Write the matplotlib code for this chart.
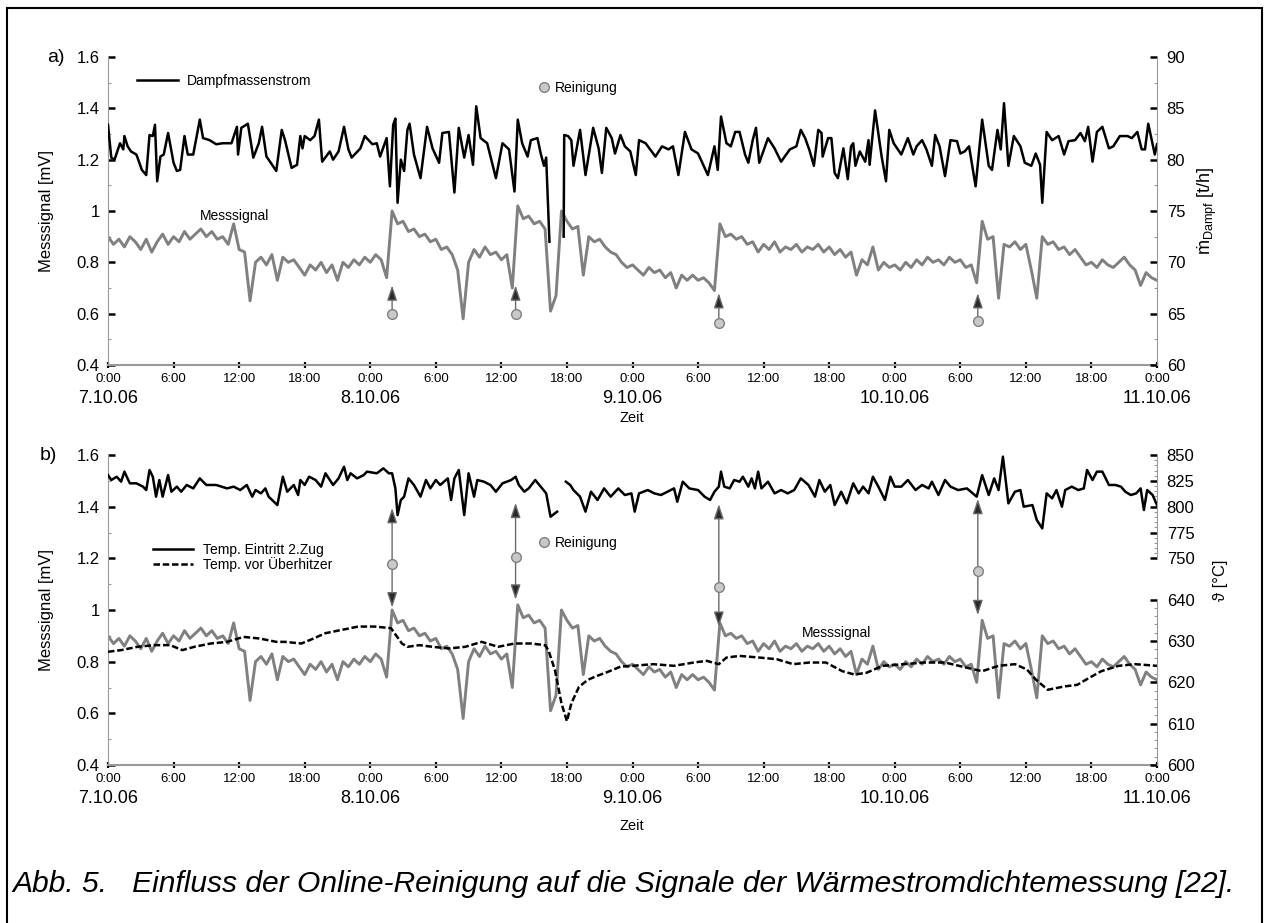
import numpy as np
import matplotlib.pyplot as plt
from matplotlib.ticker import MultipleLocator

plt.rcParams['font.family'] = ['Liberation Sans', 'DejaVu Sans']
plt.rcParams['mathtext.fontset'] = 'custom'
plt.rcParams['mathtext.rm'] = 'Liberation Sans'
plt.rcParams['mathtext.it'] = 'Liberation Sans:italic'

# ---- data (hours since 7.10.06 0:00) ----
hour_ticks = list(range(0, 97, 6))
hour_labels = ['0:00', '6:00', '12:00', '18:00'] * 4 + ['0:00']
date_ticks = [0, 24, 48, 72, 96]
date_labels = ['7.10.06', '8.10.06', '9.10.06', '10.10.06', '11.10.06']

# Messsignal [mV], one value every half hour from 0 h to 96 h
messsignal = [
    0.90, 0.87, 0.89, 0.86, 0.90, 0.88, 0.85, 0.89, 0.84, 0.88, 0.91, 0.87,
    0.90, 0.88, 0.92, 0.89, 0.91, 0.93, 0.90, 0.92, 0.89, 0.90, 0.87, 0.95,
    0.85, 0.84, 0.65, 0.80, 0.82, 0.79, 0.83, 0.73, 0.82, 0.80, 0.81, 0.78,
    0.75, 0.79, 0.77, 0.80, 0.76, 0.79, 0.73, 0.80, 0.78, 0.81, 0.79, 0.82,
    0.80, 0.83, 0.81, 0.74, 1.00, 0.95, 0.96, 0.92, 0.93, 0.90, 0.91, 0.88,
    0.89, 0.85, 0.86, 0.83, 0.77, 0.58, 0.80, 0.85, 0.82, 0.86, 0.83, 0.84,
    0.81, 0.83, 0.70, 1.02, 0.97, 0.98, 0.95, 0.96, 0.93, 0.61, 0.67, 1.00,
    0.96, 0.93, 0.94, 0.75, 0.90, 0.88, 0.89, 0.86, 0.84, 0.83, 0.80, 0.78,
    0.79, 0.77, 0.75, 0.78, 0.76, 0.77, 0.74, 0.76, 0.70, 0.75, 0.73, 0.75,
    0.73, 0.74, 0.72, 0.69, 0.95, 0.90, 0.91, 0.89, 0.90, 0.87, 0.88, 0.84,
    0.87, 0.85, 0.88, 0.84, 0.86, 0.85, 0.87, 0.84, 0.86, 0.85, 0.87, 0.84,
    0.86, 0.83, 0.85, 0.82, 0.84, 0.75, 0.81, 0.79, 0.86, 0.77, 0.80, 0.78,
    0.79, 0.77, 0.80, 0.78, 0.81, 0.79, 0.82, 0.80, 0.81, 0.79, 0.82, 0.80,
    0.81, 0.78, 0.79, 0.72, 0.96, 0.89, 0.90, 0.66, 0.87, 0.86, 0.88, 0.85,
    0.87, 0.77, 0.66, 0.90, 0.87, 0.88, 0.85, 0.86, 0.83, 0.85, 0.82, 0.79,
    0.80, 0.78, 0.81, 0.79, 0.78, 0.80, 0.82, 0.79, 0.77, 0.71, 0.76, 0.74,
    0.73]
mess_h = np.linspace(0, 96, len(messsignal))

# Dampfmassenstrom [t/h]
dampf_h = [0.0, 0.3, 0.6, 1.1, 1.4, 1.5, 1.8, 2.1, 2.6, 3.1, 3.5, 3.8, 4.1, 4.3, 4.5, 4.8,
           5.1, 5.5, 6.0, 6.3, 6.6, 7.0, 7.3, 7.8, 8.4, 8.7, 9.3, 9.9, 10.5, 11.3, 11.8,
           11.9, 12.2, 12.8, 13.3, 13.8, 14.1, 14.5, 14.7, 15.4, 15.9, 16.2, 16.8, 17.3,
           17.6, 17.8, 18.0, 18.5, 18.9, 19.3, 19.6, 20.3, 20.6, 21.1, 21.6, 22.0, 22.3,
           23.1, 23.5, 24.2, 24.6, 24.9, 25.5, 25.8, 26.1, 26.3, 26.5, 26.8, 27.1, 27.4,
           27.6, 28.0, 28.6, 29.2, 29.7, 30.3, 30.6, 31.2, 31.7, 32.1, 32.6, 33.0, 33.4,
           33.7, 34.1, 34.7, 35.5, 36.1, 36.7, 37.2, 37.5, 37.9, 38.4, 38.7, 39.3, 39.6,
           39.9, 40.1, 40.4, 41.0, 41.7, 41.75, 42.1, 42.4, 42.6, 43.2, 43.7, 44.4, 44.9,
           45.2, 45.6, 46.1, 46.4, 46.9, 47.3, 47.8, 48.3, 48.6, 49.2, 50.1, 50.7, 51.3,
           51.7, 52.2, 52.8, 53.4, 54.0, 54.9, 55.5, 55.8, 56.1, 56.6, 57.0, 57.4, 57.8,
           58.3, 58.6, 59.0, 59.3, 59.6, 60.4, 61.0, 61.6, 62.4, 63.0, 63.4, 63.8, 64.2,
           64.6, 65.0, 65.3, 65.4, 65.9, 66.2, 66.5, 66.8, 67.3, 67.7, 68.0, 68.2, 68.4,
           68.8, 69.3, 69.6, 69.7, 70.2, 70.8, 71.2, 71.5, 71.9, 72.6, 73.2, 73.7, 74.0,
           74.5, 74.9, 75.4, 75.7, 76.1, 76.6, 77.1, 77.7, 78.0, 78.4, 78.8, 79.4, 80.0,
           80.6, 80.9, 81.4, 81.7, 82.0, 82.4, 82.9, 83.5, 83.9, 84.5, 84.9, 85.3, 85.5,
           85.9, 86.4, 87.0, 87.5, 87.9, 88.5, 89.0, 89.4, 89.7, 90.1, 90.5, 91.0, 91.6,
           92.0, 92.6, 93.3, 93.7, 94.2, 94.6, 94.9, 95.2, 95.8, 96.0]
dampf_t = [83.4, 80.2, 80.0, 81.6, 81.0, 82.3, 81.3, 80.8, 80.5, 79.0, 78.5, 82.4, 82.3, 83.4, 77.9, 80.3,
           80.5, 82.6, 79.7, 78.9, 79.0, 82.3, 80.5, 80.5, 83.9, 82.1, 81.9, 81.5, 81.6, 81.6, 83.2,
           80.5, 83.1, 83.5, 80.2, 81.6, 83.2, 80.3, 80.0, 78.9, 82.9, 81.9, 79.2, 79.5,
           82.3, 81.1, 82.3, 81.9, 82.3, 83.9, 79.8, 80.8, 80.0, 80.8, 83.2, 81.0, 80.2,
           81.1, 82.3, 81.5, 81.6, 80.3, 82.1, 77.4, 83.4, 84.0, 75.8, 80.0, 78.9, 82.9,
           83.5, 80.5, 78.2, 83.2, 81.1, 79.7, 82.6, 82.7, 76.8, 83.1, 80.2, 82.4, 79.5,
           85.2, 82.1, 81.6, 78.2, 81.6, 81.0, 76.9, 83.9, 81.6, 80.3, 81.9, 82.1, 80.6,
           79.4, 80.2, 72.0, np.nan, 72.5, 82.4, 82.3, 81.9, 79.4, 82.9, 78.5, 83.1, 81.1,
           78.7, 83.1, 82.1, 80.6, 82.4, 81.3, 80.8, 78.5, 81.9, 81.6, 80.3, 81.3, 81.0,
           81.3, 78.5, 82.7, 81.0, 80.6, 78.5, 81.3, 79.0, 84.2, 81.6, 81.3, 82.7, 82.7,
           80.5, 79.7, 81.9, 83.1, 79.7, 82.1, 81.1, 79.8, 81.0, 81.3, 82.9, 82.1, 80.9,
           79.4, 82.9, 82.6, 80.3, 82.1, 82.1, 78.7, 78.2, 81.1, 78.1, 81.3, 81.6, 79.4,
           80.8, 79.8, 81.9, 79.5, 84.8, 80.3, 77.9, 82.9, 81.6, 80.5, 82.1, 80.5, 81.3,
           81.9, 81.0, 79.4, 82.4, 81.3, 78.4, 81.9, 81.8, 80.6, 80.8, 81.3, 77.4, 83.9,
           79.4, 79.0, 82.9, 81.0, 85.5, 79.4, 82.3, 81.3, 79.7, 79.4, 80.6, 79.5, 75.8,
           82.7, 81.9, 82.3, 80.5, 81.8, 81.9, 82.6, 81.8, 83.2, 79.8, 82.7, 83.2, 81.1,
           81.3, 82.3, 82.3, 82.1, 82.7, 81.0, 81.0, 83.5, 80.5, 81.5]

# Temp. Eintritt 2.Zug [degC]
eintritt_h = [0.0, 0.3, 0.8, 1.2, 1.5, 2.0, 2.6, 3.2, 3.5, 3.8, 4.1, 4.4, 4.7, 5.0, 5.5, 5.8,
              6.3, 6.7, 7.2, 7.8, 8.4, 9.0, 9.9, 10.9, 11.5, 12.1, 12.7, 13.2, 13.5, 14.0,
              14.4, 14.7, 15.5, 16.0, 16.4, 17.0, 17.4, 17.6, 18.0, 18.4, 19.0, 19.5, 19.9,
              20.3, 20.6, 21.1, 21.6, 21.9, 22.2, 22.8, 23.4, 23.7, 24.6, 25.2, 25.7, 26.0,
              26.3, 26.5, 26.8, 27.1, 27.5, 28.0, 28.6, 29.1, 29.5, 30.0, 30.4, 31.1, 31.4,
              31.7, 32.1, 32.6, 33.0, 33.5, 33.8, 34.4, 35.0, 35.5, 36.1, 36.9, 37.3, 37.6,
              38.1, 38.5, 39.1, 39.6, 40.1, 40.5, 41.1, 41.5, 41.9, 42.3, 42.6, 43.2, 43.7,
              44.2, 44.8, 45.4, 46.0, 46.7, 47.3, 47.9, 48.2, 48.6, 49.4, 50.0, 50.6, 51.2,
              51.8, 52.1, 52.6, 53.2, 54.0, 54.6, 55.1, 55.5, 55.9, 56.1, 56.4, 56.9, 57.3,
              57.8, 58.1, 58.6, 58.9, 59.2, 59.5, 59.8, 60.4, 61.0, 61.6, 62.2, 62.8, 63.4,
              64.1, 64.7, 65.1, 65.6, 66.1, 66.5, 67.1, 67.6, 68.2, 68.7, 69.1, 69.6, 70.0,
              70.5, 71.1, 71.6, 72.0, 72.6, 73.2, 73.9, 74.5, 75.1, 75.4, 76.0, 76.6, 77.1,
              77.8, 78.6, 79.5, 80.0, 80.6, 81.1, 81.5, 81.9, 82.4, 83.0, 83.5, 83.8, 84.6,
              85.0, 85.5, 85.9, 86.4, 86.8, 87.3, 87.6, 88.2, 88.8, 89.3, 89.6, 90.1, 90.5,
              91.0, 91.6, 92.2, 92.7, 93.1, 93.6, 94.1, 94.5, 94.8, 95.1, 95.6, 96.0]
eintritt_T = [830.6, 825.8, 829.0, 824.2, 833.9, 822.6, 822.6, 819.4, 816.1, 835.5, 829.0, 809.7, 825.8, 809.7, 830.6, 814.5,
              819.4, 814.5, 821.0, 817.7, 827.4, 821.0, 821.0, 817.7, 819.4, 816.1, 821.0, 809.7, 816.1, 812.9,
              817.7, 809.7, 801.6, 829.0, 814.5, 821.0, 811.3, 825.8, 821.0, 829.0, 825.8, 819.4, 832.3,
              825.8, 821.0, 827.4, 838.7, 825.8, 832.3, 827.4, 830.6, 833.9, 832.3, 837.1, 832.3, 832.3,
              817.7, 791.9, 806.5, 809.7, 827.4, 821.0, 809.7, 825.8, 817.7, 825.8, 821.0, 827.4, 806.5,
              827.4, 835.5, 791.9, 832.3, 809.7, 825.8, 824.2, 821.0, 814.5, 822.6, 825.8, 829.0, 821.0,
              814.5, 817.7, 825.8, 819.4, 812.9, 790.3, 795.2, np.nan, 824.2, 821.0, 816.1, 809.7, 795.2,
              814.5, 806.5, 817.7, 809.7, 817.7, 811.3, 812.9, 795.2, 812.9, 816.1, 812.9, 811.3, 814.5,
              817.7, 804.8, 824.2, 817.7, 816.1, 809.7, 806.5, 814.5, 819.4, 833.9, 819.4, 817.7, 825.8,
              824.2, 829.0, 819.4, 827.4, 817.7, 833.9, 817.7, 824.2, 812.9, 816.1, 812.9, 816.1, 827.4,
              821.0, 809.7, 825.8, 814.5, 821.0, 801.6, 814.5, 803.2, 822.6, 812.9, 819.4, 812.9, 829.0,
              819.4, 806.5, 829.0, 819.4, 819.4, 825.8, 816.1, 821.0, 817.7, 824.2, 811.3, 825.8, 819.4,
              816.1, 817.7, 809.7, 830.6, 811.3, 827.4, 816.1, 848.4, 803.2, 814.5, 816.1, 800.0, 801.6,
              787.1, 779.0, 812.9, 808.1, 816.1, 800.0, 816.1, 819.4, 816.1, 817.7, 835.5, 825.8, 833.9,
              833.9, 821.0, 821.0, 819.4, 814.5, 811.3, 812.9, 817.7, 796.8, 816.1, 811.3, 801.6]

# Temp. vor Ueberhitzer [degC]
ueber_h = [0.0, 1.2, 2.7, 4.2, 5.7, 6.8, 7.9, 9.4, 10.9, 12.4, 13.9, 15.4, 16.2, 17.7, 18.8,
           19.9, 21.4, 22.9, 24.4, 25.9, 26.9, 27.4, 28.5, 29.7, 31.2, 32.7, 34.2, 35.7, 37.2,
           38.7, 40.0, 40.3, 40.9, 41.5, 42.0, 42.4, 43.1, 43.9, 44.6, 45.8, 46.9, 48.0, 49.9,
           51.8, 53.6, 54.8, 55.9, 56.6, 57.8, 59.6, 61.2, 62.7, 64.2, 65.7, 67.2, 68.3, 69.4,
           70.9, 72.8, 74.7, 76.6, 78.5, 80.0, 81.5, 83.0, 84.1, 84.9, 86.0, 87.5, 88.7, 89.8,
           90.9, 92.5, 94.0, 96.0]
ueber_T = [627.4, 627.8, 628.6, 629.0, 629.0, 627.8, 628.6, 629.4, 629.8, 631.0, 630.6, 629.8, 629.8, 629.4, 630.6,
           631.9, 632.7, 633.5, 633.5, 633.1, 629.4, 628.6, 629.0, 628.6, 628.2, 628.6, 629.8, 628.6, 629.4,
           629.4, 629.0, 627.8, 623.0, 614.9, 610.6, 614.9, 618.9, 620.6, 621.4, 622.6, 623.8, 624.0, 624.4,
           624.0, 624.8, 625.2, 624.4, 626.0, 626.4, 626.0, 625.6, 624.4, 624.8, 624.8, 622.7, 621.9, 622.3,
           624.0, 624.4, 624.8, 624.8, 623.6, 622.7, 624.0, 624.4, 623.1, 620.7, 618.2, 619.0, 619.4, 621.1,
           622.7, 624.0, 624.4, 624.0]

# Reinigung (cleaning) events
clean_h = [26.0, 37.3, 55.9, 79.6]
clean_a_dot = [0.60, 0.60, 0.565, 0.57]
clean_a_tip = [0.71, 0.71, 0.68, 0.68]
clean_b_dot = [1.18, 1.205, 1.09, 1.15]
clean_b_top = [1.395, 1.415, 1.41, 1.43]
clean_b_bot = [1.01, 1.04, 0.935, 0.98]

GRAY = '#808080'
SPINE = '#9a9a9a'
W, H = 1265, 923


def box(x0, y0, x1, y1):
    return [x0 / W, 1 - y1 / H, (x1 - x0) / W, (y1 - y0) / H]


def style_left(ax):
    ax.set_ylim(0.4, 1.6)
    ax.yaxis.set_major_locator(MultipleLocator(0.2))
    ax.yaxis.set_minor_locator(MultipleLocator(0.1))
    ax.yaxis.set_major_formatter(lambda v, p: f'{v:g}')
    ax.tick_params(axis='y', which='major', direction='in', length=5, width=1.8,
                   color='black', labelsize=12, pad=6)
    ax.tick_params(axis='y', which='minor', direction='in', length=2.5, width=0.8, color=SPINE)
    for s in ['top', 'right']:
        ax.spines[s].set_visible(False)
    ax.spines['left'].set_color(SPINE)
    ax.spines['bottom'].set_color(SPINE)
    ax.spines['bottom'].set_linewidth(1.5)
    ax.set_xlim(0, 96)
    ax.set_xticks(hour_ticks, hour_labels)
    ax.tick_params(axis='x', direction='inout', length=5, width=1.6, color='black',
                   labelsize=9.5, pad=3.5)
    sec = ax.secondary_xaxis('bottom')
    sec.set_xticks(date_ticks, date_labels)
    sec.tick_params(length=0, labelsize=13, pad=18)
    sec.spines['bottom'].set_visible(False)


def style_right(ax, lo, hi, major, minor):
    ax.set_ylim(lo, hi)
    ax.yaxis.set_major_locator(MultipleLocator(major))
    ax.yaxis.set_minor_locator(MultipleLocator(minor))
    ax.yaxis.tick_right()
    ax.tick_params(axis='y', which='major', direction='in', length=5, width=1.8,
                   color='black', labelsize=12, pad=7)
    ax.tick_params(axis='y', which='minor', direction='in', length=2.5, width=0.8, color=SPINE)
    for s in ['top', 'left', 'bottom']:
        ax.spines[s].set_visible(False)
    ax.spines['right'].set_color(SPINE)
    ax.patch.set_visible(False)


fig = plt.figure(figsize=(W / 100, H / 100), dpi=100)

# ---------------- panel a ----------------
ax_a = fig.add_axes(box(108, 57, 1157, 365))
style_left(ax_a)
ax_a.plot(mess_h, messsignal, color=GRAY, lw=2.1)
for h, d, t in zip(clean_h, clean_a_dot, clean_a_tip):
    ax_a.annotate('', xy=(h, t), xytext=(h, d),
                  arrowprops=dict(arrowstyle='-|>,head_length=0.9,head_width=0.3',
                                  fc='#2a2a2a', ec='#6a6a6a', lw=1.0, shrinkA=0, shrinkB=0))
dots_a, = ax_a.plot(clean_h, clean_a_dot, 'o', ms=7, mfc='#c8c8c8', mec=GRAY, mew=1,
                    zorder=5, label='Reinigung')
ax_a.text(11.6, 0.98, 'Messsignal', ha='center', va='center', fontsize=10)

axr = ax_a.twinx()
style_right(axr, 60, 90, 5, 2.5)
dampf_line, = axr.plot(dampf_h, dampf_t, color='black', lw=1.8, label='Dampfmassenstrom')

leg1 = axr.legend(handles=[dampf_line], loc='upper left', bbox_to_anchor=(0.028, 0.945),
                  frameon=False, fontsize=10, borderpad=0, borderaxespad=0,
                  handlelength=2.9, handletextpad=0.7)
axr.add_artist(leg1)
axr.legend(handles=[dots_a], loc='upper left', bbox_to_anchor=(0.410, 0.922),
           frameon=False, fontsize=10, borderpad=0, borderaxespad=0,
           handlelength=0.8, handletextpad=0.4, numpoints=1)

# ---------------- panel b ----------------
ax_b = fig.add_axes(box(108, 455, 1157, 765))
style_left(ax_b)
ax_b.plot(mess_h, messsignal, color=GRAY, lw=2.1)
for h, d, t, b in zip(clean_h, clean_b_dot, clean_b_top, clean_b_bot):
    for tip in (t, b):
        ax_b.annotate('', xy=(h, tip), xytext=(h, d),
                      arrowprops=dict(arrowstyle='-|>,head_length=0.9,head_width=0.3',
                                      fc='#2a2a2a', ec='#6a6a6a', lw=1.0, shrinkA=0, shrinkB=0))
dots_b, = ax_b.plot(clean_h, clean_b_dot, 'o', ms=7, mfc='#c8c8c8', mec=GRAY, mew=1,
                    zorder=5, label='Reinigung')
ax_b.text(66.7, 0.91, 'Messsignal', ha='center', va='center', fontsize=10)

ax_hi = fig.add_axes(box(108, 455, 1157, 558.4), sharex=ax_b)
ax_hi.xaxis.set_visible(False)
style_right(ax_hi, 750, 850, 25, 5)
ax_lo = fig.add_axes(box(108, 599.7, 1157, 765), sharex=ax_b)
ax_lo.xaxis.set_visible(False)
style_right(ax_lo, 600, 640, 10, 2)

eintritt_line, = ax_hi.plot(eintritt_h, eintritt_T, color='black', lw=1.8,
                            label='Temp. Eintritt 2.Zug')
ueber_line, = ax_lo.plot(ueber_h, ueber_T, color='black', lw=1.8, dashes=(2.6, 1.1),
                         label='Temp. vor Überhitzer')

leg2 = ax_b.legend(handles=[eintritt_line, ueber_line], loc='upper left',
                   bbox_to_anchor=(0.043, 0.715), frameon=False, fontsize=10,
                   borderpad=0, borderaxespad=0, labelspacing=0.0,
                   handlelength=2.9, handletextpad=0.7)
ax_b.add_artist(leg2)
ax_b.legend(handles=[dots_b], loc='upper left', bbox_to_anchor=(0.410, 0.738),
            frameon=False, fontsize=10, borderpad=0, borderaxespad=0,
            handlelength=0.8, handletextpad=0.4, numpoints=1)

# ---------------- labels ----------------
fig.text(47 / W, 1 - 57 / H, 'a)', fontsize=14, ha='left', va='center')
fig.text(40 / W, 1 - 455 / H, 'b)', fontsize=14, ha='left', va='center')
fig.text(46 / W, 1 - 211 / H, 'Messsignal [mV]', rotation=90, fontsize=12,
         ha='center', va='center')
fig.text(46 / W, 1 - 610 / H, 'Messsignal [mV]', rotation=90, fontsize=12,
         ha='center', va='center')
fig.text(1207 / W, 1 - 211 / H, 'ṁ$_{\\mathrm{Dampf}}$ [t/h]', rotation=90, fontsize=13,
         ha='center', va='center')
fig.text(1220 / W, 1 - 580 / H, 'ϑ [°C]', rotation=90, fontsize=12,
         ha='center', va='center')
fig.text(632 / W, 1 - 418 / H, 'Zeit', fontsize=10.5, ha='center', va='center')
fig.text(632 / W, 1 - 826 / H, 'Zeit', fontsize=10.5, ha='center', va='center')
fig.text(12 / W, 1 - 884 / H,
         'Abb. 5.   Einfluss der Online-Reinigung auf die Signale der Wärmestromdichtemessung [22].',
         fontsize=21.6, style='italic', ha='left', va='center')

fig.add_artist(plt.Rectangle((7 / W, -0.05), (1262 - 7) / W, 1.05 - 8 / H,
                             transform=fig.transFigure, fill=False, ec='black', lw=1.5))

fig.savefig('out.png', dpi=100)
